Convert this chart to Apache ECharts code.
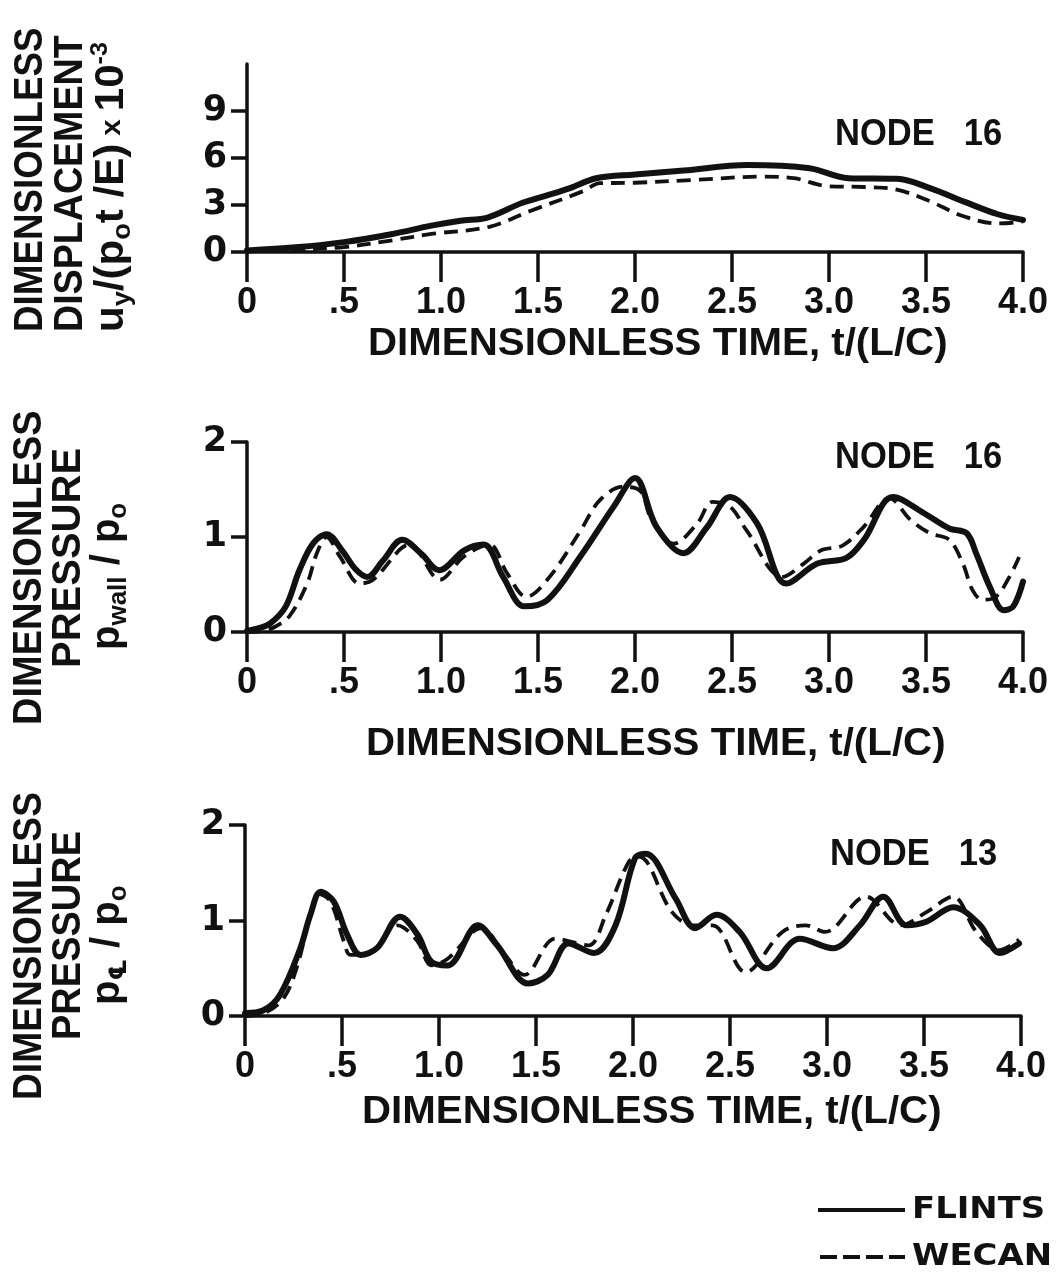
<!DOCTYPE html>
<html><head><meta charset="utf-8">
<script src="https://cdn.jsdelivr.net/npm/echarts@6/dist/echarts.min.js"></script>
<style>html,body{margin:0;padding:0;background:#fff}#c{width:1061px;height:1279px}</style>
</head><body><div id="c"></div>
<script>
// ---- tick labels ----
const xTickLabels = ['0', '.5', '1.0', '1.5', '2.0', '2.5', '3.0', '3.5', '4.0'];
const dispTicks = [0, 3, 6, 9];
const presTicks = [0, 1, 2];
const seriesNames = ['FLINTS', 'WECAN'];
const nodeLabels = ['NODE   16', 'NODE   16', 'NODE   13'];

// ---- panel 1: displacement, node 16 ----
const dispFlintsT = [0, 0.25, 0.5, 0.75, 0.95, 1.1, 1.24, 1.42, 1.55, 1.665, 1.8, 2.0, 2.25, 2.58, 2.9, 3.1, 3.35, 3.52, 3.7, 3.87, 4.0];
const dispFlintsV = [0.1, 0.3, 0.63, 1.15, 1.68, 2.0, 2.2, 3.14, 3.63, 4.08, 4.71, 4.95, 5.2, 5.55, 5.34, 4.71, 4.67, 4.08, 3.2, 2.41, 2.05];
const dispWecanT = [0, 0.25, 0.5, 0.75, 0.95, 1.25, 1.46, 1.73, 1.82, 2.0, 2.3, 2.66, 2.82, 3.0, 3.18, 3.35, 3.52, 3.69, 3.87, 4.0];
const dispWecanV = [0.05, 0.15, 0.31, 0.75, 1.15, 1.61, 2.62, 3.87, 4.39, 4.42, 4.6, 4.81, 4.71, 4.19, 4.15, 3.98, 3.24, 2.3, 1.82, 1.95];

// ---- panel 2: wall pressure, node 16 ----
const wallFlintsT = [0, 0.06, 0.12, 0.2, 0.27, 0.34, 0.41, 0.49, 0.56, 0.62, 0.7, 0.8, 0.9, 0.99, 1.12, 1.22, 1.32, 1.43, 1.55, 1.72, 1.89, 2.0, 2.11, 2.25, 2.37, 2.49, 2.63, 2.78, 2.94, 3.09, 3.18, 3.33, 3.49, 3.62, 3.71, 3.76, 3.83, 3.9, 3.95, 4.0];
const wallFlintsV = [0.01, 0.04, 0.09, 0.27, 0.65, 0.93, 1.03, 0.86, 0.66, 0.58, 0.75, 0.97, 0.82, 0.65, 0.86, 0.92, 0.58, 0.27, 0.34, 0.8, 1.32, 1.62, 1.11, 0.83, 1.1, 1.42, 1.14, 0.51, 0.72, 0.78, 0.97, 1.42, 1.25, 1.09, 1.04, 0.82, 0.47, 0.23, 0.27, 0.53];
const wallWecanT = [0, 0.07, 0.14, 0.22, 0.31, 0.36, 0.41, 0.48, 0.58, 0.65, 0.84, 0.995, 1.115, 1.25, 1.34, 1.44, 1.56, 1.72, 1.82, 1.94, 2.03, 2.08, 2.2, 2.32, 2.4, 2.49, 2.575, 2.76, 2.87, 2.96, 3.07, 3.18, 3.31, 3.42, 3.52, 3.62, 3.69, 3.74, 3.79, 3.86, 3.93, 3.98];
const wallWecanV = [0, 0.01, 0.05, 0.17, 0.51, 0.83, 1.0, 0.79, 0.51, 0.55, 0.92, 0.55, 0.79, 0.92, 0.62, 0.37, 0.58, 1.07, 1.39, 1.53, 1.48, 1.21, 0.93, 1.14, 1.37, 1.32, 1.07, 0.58, 0.72, 0.86, 0.91, 1.11, 1.41, 1.18, 1.04, 0.97, 0.72, 0.44, 0.34, 0.37, 0.58, 0.79];

// ---- panel 3: centreline pressure, node 13 ----
const clFlintsT = [0, 0.095, 0.18, 0.285, 0.337, 0.39, 0.457, 0.527, 0.596, 0.68, 0.8, 0.89, 0.96, 1.045, 1.2, 1.3, 1.46, 1.56, 1.667, 1.8, 1.91, 2.01, 2.065, 2.22, 2.32, 2.43, 2.55, 2.69, 2.86, 3.03, 3.17, 3.29, 3.41, 3.515, 3.65, 3.79, 3.89, 3.99];
const clFlintsV = [0.03, 0.06, 0.22, 0.71, 1.06, 1.3, 1.2, 0.85, 0.64, 0.71, 1.04, 0.85, 0.57, 0.53, 0.95, 0.74, 0.34, 0.43, 0.76, 0.66, 0.95, 1.65, 1.7, 1.23, 0.92, 1.06, 0.88, 0.5, 0.81, 0.71, 0.95, 1.25, 0.95, 0.99, 1.14, 0.95, 0.66, 0.76];
const clWecanT = [0, 0.1, 0.2, 0.27, 0.337, 0.38, 0.44, 0.51, 0.544, 0.65, 0.786, 0.89, 0.96, 1.045, 1.22, 1.34, 1.44, 1.6, 1.77, 1.86, 1.98, 2.03, 2.2, 2.31, 2.41, 2.58, 2.77, 2.89, 2.99, 3.2, 3.38, 3.515, 3.65, 3.77, 3.89, 3.99];
const clWecanV = [0, 0.03, 0.19, 0.53, 1.06, 1.28, 1.2, 0.78, 0.64, 0.67, 0.95, 0.78, 0.53, 0.6, 0.92, 0.64, 0.43, 0.81, 0.74, 1.06, 1.62, 1.67, 1.09, 0.95, 0.95, 0.46, 0.88, 0.95, 0.88, 1.25, 0.95, 1.09, 1.25, 0.88, 0.69, 0.8];

const pairs = (t, v) => t.map((x, i) => [x, v[i]]);
const INK = '#111';
const LAB = 'Liberation Sans, Arial, sans-serif';
const DJ = 'DejaVu Sans, Liberation Sans, sans-serif';
const SOLID = { color: INK, width: 6, type: 'solid', cap: 'round', join: 'round' };
const DASHED = { color: INK, width: 3.8, type: [14, 8], cap: 'butt', join: 'round' };

const grids = [
  { left: 247, top: 64, width: 776, height: 188 },
  { left: 247, top: 442, width: 776, height: 190 },
  { left: 245, top: 825, width: 776, height: 191 }
].map(g => Object.assign(g, { containLabel: false, outerBoundsMode: 'none' }));

function xAxis(i) {
  return {
    type: 'value', gridIndex: i, min: 0, max: 4, interval: 0.5,
    axisLine: { show: true, onZero: false, lineStyle: { color: INK, width: 3.5 } },
    axisTick: { show: true, inside: false, length: 30, lineStyle: { color: INK, width: 3.5 } },
    axisLabel: { show: true, margin: 33, color: INK, fontFamily: LAB, fontWeight: 'bold', fontSize: 36,
      formatter: v => xTickLabels[Math.round(v / 0.5)] },
    splitLine: { show: false }
  };
}
function yAxis(i, max, interval, ticks) {
  return {
    type: 'value', gridIndex: i, min: 0, max: max, interval: interval,
    axisLine: { show: true, lineStyle: { color: INK, width: 3.5 } },
    axisTick: { show: true, length: 16, customValues: ticks, lineStyle: { color: INK, width: 3.5 } },
    axisLabel: { show: true, margin: 20, customValues: ticks, color: INK, fontFamily: DJ, fontWeight: 'bold', fontSize: 35 },
    splitLine: { show: false }
  };
}

function lineSeries(name, i, t, v) {
  const solid = name === seriesNames[0];
  return {
    name: name, type: 'line', xAxisIndex: i, yAxisIndex: i,
    data: pairs(t, v), smooth: 0.35, symbol: 'none', showSymbol: false,
    lineStyle: solid ? SOLID : DASHED,
    itemStyle: { color: INK },
    z: solid ? 3 : 4, silent: true, animation: false
  };
}

function vText(x, y, text, sx) {
  return {
    type: 'text', x: x, y: y, rotation: Math.PI / 2, scaleX: sx, silent: true,
    style: { text: text, fill: INK, font: 'bold 40px ' + LAB, textAlign: 'left', textVerticalAlign: 'middle', verticalAlign: 'middle' }
  };
}
const M = { fontSize: 40, fontWeight: 'bold', fontFamily: LAB, lineHeight: 48, verticalAlign: 'middle' };
const S = { fontSize: 26, fontWeight: 'bold', fontFamily: LAB, lineHeight: 26, verticalAlign: 'bottom' };
const P = { fontSize: 24, fontWeight: 'bold', fontFamily: LAB, lineHeight: 24, verticalAlign: 'top' };
const SC = { fontSize: 24, fontWeight: 'bold', fontFamily: DJ, lineHeight: 26, verticalAlign: 'bottom' };
const X = { fontSize: 28, fontWeight: 'bold', fontFamily: LAB, lineHeight: 48, verticalAlign: 'middle' };
function richText(x, y, text, sx, rich) {
  return {
    type: 'text', x: x, y: y, rotation: Math.PI / 2, scaleX: sx, silent: true,
    style: { text: text, fill: INK, font: 'bold 40px ' + LAB, textAlign: 'left', textVerticalAlign: 'middle', verticalAlign: 'middle', rich: rich }
  };
}
function hText(x, y, text, size, sx, fam) {
  return {
    type: 'text', x: x, y: y, scaleX: sx, silent: true,
    style: { text: text, fill: INK, font: 'bold ' + size + 'px ' + (fam || LAB), textAlign: 'left', textVerticalAlign: 'middle', verticalAlign: 'middle' }
  };
}
function hLine(x1, x2, y, width, dash) {
  return {
    type: 'line', silent: true,
    shape: { x1: x1, y1: y, x2: x2, y2: y },
    style: { stroke: INK, lineWidth: width, lineDash: dash, lineCap: 'butt' }
  };
}
const timeTitle = 'DIMENSIONLESS TIME, t/(L/C)';

const graphic = [
  // panel 1 y title
  vText(31, 332, 'DIMENSIONLESS', 0.92),
  vText(71, 332, 'DISPLACEMENT', 0.94),
  richText(112, 332, '{m|u}{s|y}{m|/(p}{s|o}{m|t /E)}{x| x }{m|10}{p|-3}', 1.05, { m: M, s: S, p: P, x: X }),
  // panel 2 y title
  vText(30, 725, 'DIMENSIONLESS', 0.95),
  vText(69, 668, 'PRESSURE', 1.0),
  richText(108, 650, '{m|p}{s|wall}{m| / p}{s|o}', 1.0, { m: M, s: S }),
  // panel 3 y title
  vText(30, 1100, 'DIMENSIONLESS', 0.93),
  vText(69, 1040, 'PRESSURE', 0.95),
  richText(108, 1005, '{m|p}{c|℄}{m| / p}{s|o}', 1.0, { m: M, s: S, c: SC }),
  // x titles
  hText(368, 345, timeTitle, 38, 1.06),
  hText(366, 745, timeTitle, 38, 1.06),
  hText(362, 1113, timeTitle, 38, 1.06),
  // node labels
  hText(835, 135, nodeLabels[0], 36, 0.96),
  hText(835, 458, nodeLabels[1], 36, 0.96),
  hText(830, 855, nodeLabels[2], 36, 0.96),
  // key
  hLine(818, 905, 1210, 4, null),
  hLine(820, 905, 1257, 4, [17, 6]),
  hText(912, 1210, seriesNames[0], 30, 1.13, DJ),
  hText(912, 1257, seriesNames[1], 30, 1.13, DJ)
];

const option = {
  backgroundColor: '#fff',
  animation: false,
  grid: grids,
  xAxis: [0, 1, 2].map(xAxis),
  yAxis: [yAxis(0, 12, 3, dispTicks), yAxis(1, 2, 1, presTicks), yAxis(2, 2, 1, presTicks)],
  series: [
    lineSeries('FLINTS', 0, dispFlintsT, dispFlintsV),
    lineSeries('WECAN', 0, dispWecanT, dispWecanV),
    lineSeries('FLINTS', 1, wallFlintsT, wallFlintsV),
    lineSeries('WECAN', 1, wallWecanT, wallWecanV),
    lineSeries('FLINTS', 2, clFlintsT, clFlintsV),
    lineSeries('WECAN', 2, clWecanT, clWecanV)
  ],
  graphic: graphic
};
const chart = echarts.init(document.getElementById('c'), null, { renderer: 'canvas' });
chart.setOption(option);
</script>
</body></html>
